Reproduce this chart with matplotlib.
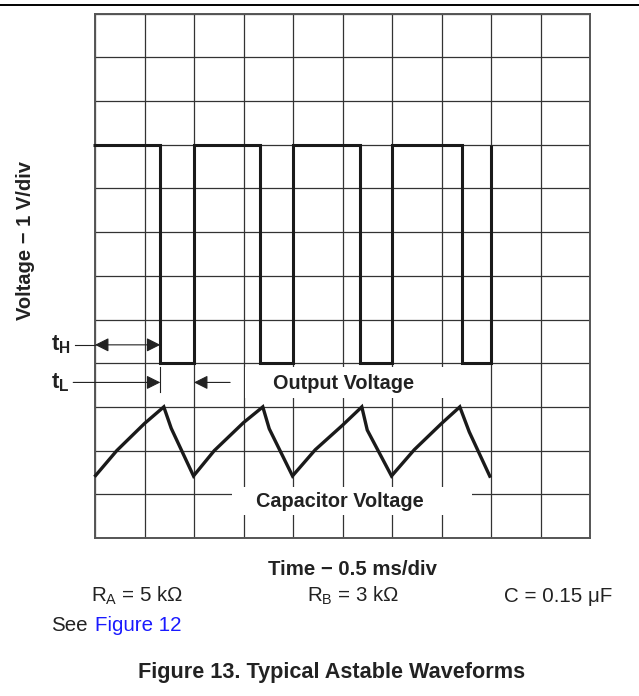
import matplotlib
matplotlib.use("Agg")
import matplotlib.pyplot as plt
from matplotlib.patches import Rectangle
from matplotlib.lines import Line2D

plt.rcParams['font.family'] = ['Liberation Sans', 'DejaVu Sans']
plt.rcParams['mathtext.fontset'] = 'custom'
plt.rcParams['mathtext.rm'] = 'Liberation Sans'
plt.rcParams['mathtext.it'] = 'Liberation Sans:italic'
plt.rcParams['mathtext.bf'] = 'Liberation Sans:bold'

# ---- data (divisions) ----
out_time = [-0.04, 1.32, 2.0, 3.34, 4.0, 5.36, 6.0, 7.41, 8.0]
out_volt = [9, 4, 9, 4, 9, 4, 9, 4, 9]

cap_time = [-0.01, 0.44, 1.0, 1.39, 1.54, 1.99,
            2.41, 3.0, 3.39, 3.52, 3.99,
            4.45, 5.0, 5.39, 5.50, 5.99,
            6.45, 7.0, 7.37, 7.56, 7.99]
cap_volt = [1.40, 2.0, 2.62, 3.0, 2.51, 1.42,
            2.0, 2.64, 3.0, 2.50, 1.42,
            2.02, 2.58, 3.0, 2.47, 1.42,
            2.02, 2.62, 3.0, 2.43, 1.38]

x_divs = 10
y_divs = 12

W, H = 639, 696
fig = plt.figure(figsize=(W / 100, H / 100), dpi=100)

def fx(px):
    return px / W

def fy(py):
    return 1 - py / H

ax = fig.add_axes([fx(95), fy(538), fx(590) - fx(95), fy(13.6) - fy(538)])
ax.set_xlim(0, x_divs)
ax.set_ylim(0, y_divs)
ax.set_xticks(range(x_divs + 1))
ax.set_yticks(range(y_divs + 1))
ax.tick_params(length=0, labelbottom=False, labelleft=False)
ax.set_axisbelow(True)
ax.grid(True, color='#333333', lw=0.9)
for s in ax.spines.values():
    s.set_color('#555555')
    s.set_linewidth(1.4)
    s.set_zorder(0.6)

# white label boxes
ax.add_patch(Rectangle((3.03, 3.2), 4.94, 0.72, facecolor='white', edgecolor='none', zorder=1))
ax.add_patch(Rectangle((2.77, 0.53), 4.85, 0.64, facecolor='white', edgecolor='none', zorder=1))

ax.plot(out_time, out_volt, drawstyle='steps-post', color='#1a1a1a', lw=2.2,
        solid_joinstyle='miter', solid_capstyle='butt', zorder=3, clip_on=False)
ax.plot(cap_time, cap_volt, color='#1a1a1a', lw=2.4, solid_joinstyle='miter',
        solid_capstyle='butt', zorder=3, clip_on=False)

ax.text(5.02, 3.40, 'Output Voltage', ha='center', va='baseline', fontsize=14.3,
        fontweight='bold', color='#222222', zorder=4)
ax.text(4.95, 0.70, 'Capacitor Voltage', ha='center', va='baseline', fontsize=14.3,
        fontweight='bold', color='#222222', zorder=4)

# tH / tL annotations
akw = dict(color='#222222', lw=0.8, shrinkA=0, shrinkB=0)
yH, yL = 4.42, 3.56
ax.plot([-0.40, 0.0], [yH, yH], color='#222222', lw=0.8, clip_on=False)
ax.annotate('', xy=(0.0, yH), xytext=(1.32, yH),
            arrowprops=dict(arrowstyle='<|-|>,head_length=0.6,head_width=0.3',
                            mutation_scale=14, **akw), annotation_clip=False)
ax.annotate('', xy=(1.32, yL), xytext=(-0.44, yL),
            arrowprops=dict(arrowstyle='-|>,head_length=0.6,head_width=0.3',
                            mutation_scale=14, **akw), annotation_clip=False)
ax.annotate('', xy=(2.0, yL), xytext=(2.73, yL),
            arrowprops=dict(arrowstyle='-|>,head_length=0.6,head_width=0.3',
                            mutation_scale=14, **akw), annotation_clip=False)
ax.plot([1.32, 1.32], [3.33, 3.91], color='#222222', lw=0.8, zorder=3)
ax.text(-0.89, 4.30, r'$\mathbf{t}_{\mathbf{H}}$', ha='left', va='baseline',
        fontsize=16, color='#222222', clip_on=False)
ax.text(-0.89, 3.42, r'$\mathbf{t}_{\mathbf{L}}$', ha='left', va='baseline',
        fontsize=16, color='#222222', clip_on=False)

# top rule
fig.add_artist(Line2D([0, 1], [fy(5.3), fy(5.3)], color='black', lw=1.4))

# axis labels and notes
fig.text(fx(26), fy(241), 'Voltage − 1 V/div', rotation=90, ha='center', va='center',
         fontsize=14.5, fontweight='bold', color='#222222')
fig.text(fx(352.7), fy(575), 'Time − 0.5 ms/div', ha='center', va='baseline',
         fontsize=14.7, fontweight='bold', color='#222222')
fig.text(fx(136.7), fy(601.7), r'R$_{\mathregular{A}}$ = 5 kΩ', ha='center', va='baseline',
         fontsize=14.8, color='#222222')
fig.text(fx(353), fy(601.7), r'R$_{\mathregular{B}}$ = 3 kΩ', ha='center', va='baseline',
         fontsize=14.8, color='#222222')
fig.text(fx(557.8), fy(601.7), 'C = 0.15 μF', ha='center', va='baseline',
         fontsize=14.8, color='#222222')
fig.text(fx(50.7), fy(631), 'See', ha='left', va='baseline', fontsize=14.8, color='#222222')
fig.text(fx(95), fy(631), 'Figure 12', ha='left', va='baseline', fontsize=14.8, color='#1a1aff')
fig.text(fx(331.6), fy(678.3), 'Figure 13. Typical Astable Waveforms', ha='center',
         va='baseline', fontsize=15.6, fontweight='bold', color='#222222')

fig.savefig('out.png', dpi=100)
